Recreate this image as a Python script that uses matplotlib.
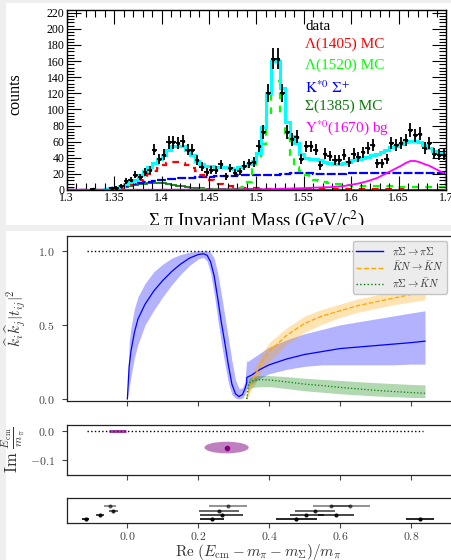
import numpy as np
import matplotlib
matplotlib.use('Agg')
import matplotlib.pyplot as plt
from matplotlib.patches import Rectangle, Ellipse
from matplotlib.lines import Line2D
from matplotlib.ticker import MultipleLocator, FuncFormatter, NullFormatter

W, H = 451, 560

# ── top panel: Sigma-pi invariant mass histogram (80 bins of 5 MeV) ──
bin_edges = np.round(np.linspace(1.30, 1.70, 81), 4)
bin_centers = 0.5 * (bin_edges[:-1] + bin_edges[1:])

data_counts = [0, 0, 0, 0, 0, 1, 0, 0, 0, 2,
               3, 5, 11, 13, 19, 16, 22, 25, 50, 39,
               44, 59, 59, 58, 61, 50, 50, 37, 29, 22,
               25, 25, 32, 17, 27, 21, 23, 30, 33, 35,
               55, 72, 120, 163, 163, 120, 72, 63, 66, 39,
               54, 54, 50, 31, 45, 42, 37, 37, 44, 35,
               45, 41, 47, 52, 56, 33, 33, 39, 58, 56,
               58, 62, 74, 68, 70, 52, 58, 45, 44, 44]

fit_total = [0, 0, 0, 0, 0, 0, 0, 0, 1, 2,
             3, 5, 7, 10, 13, 18, 23, 28, 34, 38,
             44, 50, 55, 55, 54, 50, 44, 36, 32, 30,
             30, 29, 29, 28, 27, 26, 28, 30, 32, 36,
             46, 78, 120, 160, 160, 126, 85, 67, 58, 45,
             40, 39, 38, 37, 35, 33, 32, 32, 33, 35,
             37, 39, 40, 41, 43, 45, 47, 50, 53, 55,
             57, 59, 61, 61, 59, 56, 52, 48, 46, 45]

mc_l1405 = [0, 0, 0, 0, 0, 0, 0, 0, 0.5, 1,
            2, 3, 5, 7, 10, 13, 16, 20, 24, 27,
            31, 34, 35, 35, 34, 31, 27, 23, 18, 14,
            12, 10, 8, 6, 5, 4, 3.5, 3, 2.5, 2,
            2, 2, 1.8, 1.8, 1.7, 1.6, 1.5, 1.5, 1.4, 1.4,
            1.3, 1.3, 1.2, 1.2, 1.1, 1.1, 1, 1, 1, 1,
            1, 0.9, 0.9, 0.9, 0.8, 0.8, 0.8, 0.7, 0.7, 0.7,
            0.7, 0.6, 0.6, 0.6, 0.6, 0.5, 0.5, 0.5, 0.5, 0.5]

mc_l1520 = [0, 0, 0, 0, 0, 0, 0, 0, 0.2, 0.2,
            0.3, 0.3, 0.3, 0.3, 0.3, 0.4, 0.4, 0.4, 0.4, 0.5,
            0.5, 0.5, 0.5, 0.6, 0.6, 0.6, 0.7, 0.7, 0.8, 0.8,
            0.9, 1, 1, 1.2, 1.4, 1.6, 2, 4, 10, 28,
            40, 57, 90, 135, 135, 95, 65, 43, 29, 23,
            18, 15, 13, 11, 10, 9, 8, 7, 6.5, 6,
            5.5, 5.3, 5.1, 5, 4.8, 4.7, 4.6, 4.5, 4.4, 4.3,
            4.2, 4.1, 4, 3.9, 3.8, 3.8, 3.7, 3.6, 3.5, 3.5]

mc_kstar = [0, 0, 0, 0, 0, 0, 0, 0, 1, 2,
            3, 4, 5, 7, 8, 9, 10, 10.5, 11, 12,
            13, 13.5, 14, 14.5, 15, 15, 15.5, 16, 16, 16.5,
            16.5, 17, 17, 17, 17.5, 17.5, 18, 18, 18, 18.5,
            18.5, 18.5, 19, 19, 19, 19.5, 20, 20.5, 21, 21,
            20.5, 20.5, 20, 20, 20, 20, 19.5, 19.5, 20, 20.5,
            21, 21, 21.5, 21.5, 21, 21, 21, 21, 21, 21,
            21.5, 21.5, 21, 21, 21, 21, 21, 20.5, 20.5, 20.5]

mc_s1385 = [0, 0, 0, 0, 0, 0, 0.3, 0.5, 1, 1.5,
            2, 3, 4, 5, 6, 7, 8, 8.5, 9, 9,
            8.5, 7.5, 6.5, 5.5, 4.5, 3.5, 3, 2.5, 2, 1.5,
            1.2, 1, 0.9, 0.9, 0.8, 0.8, 0.8, 0.7, 0.7, 0.7,
            0.7, 0.6, 0.6, 0.6, 0.6, 0.6, 0.5, 0.5, 0.5, 0.5,
            0.5, 0.5, 0.5, 0.5, 0.5, 0.5, 0.5, 0.5, 0.5, 0.5,
            0.5, 0.5, 0.5, 0.5, 0.5, 0.5, 0.5, 0.5, 0.5, 0.5,
            0.5, 0.5, 0.5, 0.5, 0.5, 0.5, 0.5, 0.5, 0.5, 0.5]

bg_y1670 = [0.3, 0.3, 0.3, 0.3, 0.3, 0.3, 0.3, 0.3, 0.3, 0.3,
            0.3, 0.3, 0.3, 0.3, 0.3, 0.3, 0.3, 0.3, 0.3, 0.3,
            0.4, 0.4, 0.4, 0.4, 0.4, 0.5, 0.5, 0.5, 0.5, 0.6,
            0.6, 0.6, 0.6, 0.7, 0.7, 0.7, 0.7, 0.8, 0.8, 0.8,
            0.8, 1, 1, 1.2, 1.3, 1.5, 1.7, 1.9, 2, 2.2,
            2.5, 2.7, 3, 3.2, 3.5, 3.5, 4, 4.5, 5, 6,
            7, 8, 9.5, 11, 13, 15, 18, 21, 24, 27,
            30, 33.5, 36, 36, 34.5, 32, 30, 27, 24, 21]

legend_top = [('data', 'black'), ('Λ(1405) MC', '#ff0000'), ('Λ(1520) MC', '#00ff00'),
              (r'$\mathrm{K}^{*0}\ \Sigma^{+}$', '#0000ff'), ('Σ(1385) MC', '#0b7a0b'),
              (r'$\mathrm{Y}^{*0}$(1670) bg', '#ff00ff')]
legend_top_y = [27, 44, 65, 88, 106, 128]

# ── bottom panel: amplitudes, poles, pole summary ──
pipi_x = [0, .005, .01, .02, .03, .05, .075, .10, .125, .15, .175, .20, .215, .225,
          .235, .245, .255, .265, .275, .285, .295, .305, .315, .325, .332, .337,
          .337, .35, .375, .40, .45, .50, .55, .60, .65, .70, .75, .80, .84]
pipi_mid = [0, .22, .32, .45, .54, .64, .73, .80, .86, .91, .95, .975, .98, .97,
            .925, .83, .68, .52, .38, .23, .10, .035, .016, .03, .07, .11,
            .145, .16, .20, .23, .27, .30, .32, .34, .35, .36, .37, .38, .39]
pipi_hi = [0, .38, .48, .61, .69, .78, .86, .91, .95, .975, .99, 1.0, 1.0, 1.0,
           .99, .95, .85, .71, .56, .41, .26, .13, .07, .075, .12, .28,
           .25, .27, .31, .35, .40, .44, .47, .50, .52, .54, .56, .58, .595]
pipi_lo = [0, .08, .15, .28, .37, .50, .60, .69, .77, .84, .90, .945, .955, .93,
           .85, .71, .54, .38, .24, .11, .03, .005, 0, .005, .03, .06,
           .07, .10, .14, .17, .20, .22, .23, .23, .23, .23, .23, .235, .235]

kn_x = [.337, .345, .36, .38, .40, .45, .50, .55, .60, .65, .70, .75, .80, .84]
kn_mid = [0, .08, .16, .25, .32, .43, .51, .56, .595, .63, .655, .68, .705, .725]
kn_hi = [0, .13, .22, .31, .38, .48, .56, .605, .64, .675, .70, .73, .755, .77]
kn_lo = [0, .04, .10, .19, .25, .37, .45, .505, .55, .585, .61, .635, .655, .67]

pikn_x = [.337, .342, .35, .36, .38, .40, .45, .50, .55, .60, .65, .70, .75, .80, .84]
pikn_mid = [0, .10, .12, .127, .13, .128, .115, .10, .09, .078, .068, .058, .05, .043, .038]
pikn_hi = [0, .14, .15, .155, .158, .158, .15, .14, .132, .125, .117, .11, .104, .098, .095]
pikn_lo = [0, .06, .075, .08, .083, .083, .07, .055, .045, .035, .027, .02, .015, .01, .008]

pole_re = [0.28]
pole_im = [-0.057]
pole_re_err = 0.125
pole_im_err = 0.04
virtual_re = [-0.052, -0.005]

# pole summary rows (1 = bottom row)
summ_x = [-0.1175, 0.239, 0.476, 0.826,
          -0.078, 0.266, 0.505, 0.589,
          -0.0395, 0.258, 0.530,
          -0.049, 0.283, 0.576, 0.629]
summ_lo = [0.0094, 0.033, 0.056, 0.039,
           0.011, 0.060, 0.047, 0.050,
           0.012, 0.056, 0.056,
           0.016, 0.053, 0.053, 0.053]
summ_hi = [0.0094, 0.033, 0.059, 0.040,
           0.011, 0.060, 0.050, 0.051,
           0.012, 0.058, 0.057,
           0.016, 0.055, 0.053, 0.056]
summ_row = [1, 1, 1, 1, 2, 2, 2, 2, 3, 3, 3, 4, 4, 4, 4]
row_alpha = {1: 1.0, 2: 0.85, 3: 0.7, 4: 0.5}

XMIN, XMAX = -0.1712, 0.95


def fbox(x0, y0, x1, y1):
    return [x0 / W, 1 - y1 / H, (x1 - x0) / W, (y1 - y0) / H]


fig = plt.figure(figsize=(W / 100, H / 100), dpi=100)
fig.patch.set_facecolor('#efefef')
fig.patches.append(Rectangle((6 / W, 1 - 225 / H), 1, 222 / H, transform=fig.transFigure,
                             facecolor='white', edgecolor='none', zorder=-2))
fig.patches.append(Rectangle((6 / W, 0), 1, 1 - 231 / H, transform=fig.transFigure,
                             facecolor='white', edgecolor='none', zorder=-2))
fig.patches.append(Rectangle((0, 1 - 231 / H), 1, 6 / H, transform=fig.transFigure,
                             facecolor='#efefef', edgecolor='none', zorder=20))

# ── top axes (ROOT style) ────────────────────────────────
serif = 'Liberation Serif'
ax = fig.add_axes(fbox(66.7, 10, 446, 190))
ax.set_xlim(1.30, 1.70)
ax.set_ylim(0, 223.4)

ax.stairs(mc_s1385, bin_edges, color='#0b7a0b', lw=1.3)
ax.plot(bin_centers, bg_y1670, color='#ff00ff', lw=1.3)
ax.stairs(mc_kstar, bin_edges, color='#0000ff', lw=1.6, ls=(0, (4, 1)))
ax.stairs(mc_l1405, bin_edges, color='#ff0000', lw=1.6, ls=(0, (3, 3)))
ax.stairs(mc_l1520, bin_edges, color='#00ff00', lw=1.6, ls=(0, (3, 3)))
ax.stairs(fit_total, bin_edges, color='#00ffff', lw=2.2)

counts = np.array(data_counts, dtype=float)
has = counts > 0
ax.errorbar(bin_centers[has], counts[has], yerr=np.sqrt(counts[has]), xerr=0.0025,
            fmt='o', ms=1.5, color='black', elinewidth=1.3, capsize=0)

ax.xaxis.set_major_locator(MultipleLocator(0.05))
ax.xaxis.set_minor_locator(MultipleLocator(0.01))
ax.yaxis.set_major_locator(MultipleLocator(20))
ax.yaxis.set_minor_locator(MultipleLocator(4))
ax.xaxis.set_major_formatter(FuncFormatter(lambda v, p: f'{v:g}'))
ax.tick_params(which='both', direction='in', top=True, right=True, width=0.8,
               labelsize=8.5, pad=1.5)
ax.tick_params(which='major', length=10)
ax.tick_params(which='minor', length=5)
for lab in ax.get_xticklabels() + ax.get_yticklabels():
    lab.set_fontfamily(serif)
for sp in ax.spines.values():
    sp.set_linewidth(1.0)

for (txt, col), yy in zip(legend_top, legend_top_y):
    fig.text(305 / W, 1 - yy / H, txt, color=col, fontsize=11, family=serif,
             math_fontfamily='stix', va='center', ha='left')

fig.text(15 / W, 1 - 94 / H, 'counts', rotation=90, fontsize=11.5, family=serif,
         ha='center', va='center')
fig.text(256 / W, 1 - 225.5 / H, 'Σ π Invariant Mass (GeV/c$^{2}$)', fontsize=13.5,
         family=serif, math_fontfamily='stix', ha='center', va='baseline', zorder=5)

# ── bottom axes ──────────────────────────────────────────
plt.rcParams['mathtext.fontset'] = 'cm'
tick_col = '#444444'
math_fmt = FuncFormatter(lambda v, p: f'${v:.1f}$')


def style(a):
    a.set_xlim(XMIN, XMAX)
    a.set_xticks([0, 0.2, 0.4, 0.6, 0.8])
    a.tick_params(direction='out', length=3.5, width=0.8, color=tick_col,
                  labelcolor=tick_col, labelsize=8.5, pad=1.5)
    a.tick_params(axis='y', pad=5)
    for sp in a.spines.values():
        sp.set_linewidth(0.9)
        sp.set_color('#222222')


ax_a = fig.add_axes(fbox(66.7, 236, 464, 400.7))
style(ax_a)
ax_a.set_ylim(-0.012, 1.10)
ax_a.set_yticks([0, 0.5, 1.0])
ax_a.yaxis.set_major_formatter(math_fmt)
ax_a.xaxis.set_major_formatter(NullFormatter())
ax_a.hlines(1.0, -0.113, 0.834, colors='black', linestyles=':', lw=1.0)
ax_a.fill_between(pipi_x, pipi_lo, pipi_hi, color='#0000ff', alpha=0.3, lw=0)
ax_a.fill_between(kn_x, kn_lo, kn_hi, color='#ffa500', alpha=0.3, lw=0)
ax_a.fill_between(pikn_x, pikn_lo, pikn_hi, color='green', alpha=0.3, lw=0)
ax_a.plot(pipi_x, pipi_mid, color='#0000ff', lw=0.9)
ax_a.plot(kn_x, kn_mid, color='#ffa500', lw=0.9, ls='--')
ax_a.plot(pikn_x, pikn_mid, color='green', lw=0.9, ls=':')
ax_a.set_ylabel(r'$\widehat{k}_i\widehat{k}_j|t_{ij}|^2$', fontsize=11, color='#333333')
ax_a.yaxis.set_label_coords((28 - 66.7) / 397.3, 0.5)

handles = [Line2D([], [], color='#0000ff', lw=1.0),
           Line2D([], [], color='#ffa500', lw=1.0, ls='--'),
           Line2D([], [], color='green', lw=1.0, ls=':')]
labels = [r'$\pi\Sigma\rightarrow\pi\Sigma$', r'$\bar{K}N\rightarrow\bar{K}N$',
          r'$\pi\Sigma\rightarrow\bar{K}N$']
leg = ax_a.legend(handles, labels, loc='upper right', fontsize=7.5,
                  bbox_to_anchor=(446.7 / W, 1 - 241.3 / H), bbox_transform=fig.transFigure,
                  fancybox=True, framealpha=1, facecolor='#ececec', edgecolor='#c4c4c4',
                  handlelength=2.6, borderpad=0.35, labelspacing=0.3, borderaxespad=0)
for t in leg.get_texts():
    t.set_color('#333333')

ax_b = fig.add_axes(fbox(66.7, 425, 464, 475))
style(ax_b)
ax_b.set_ylim(-0.1517, 0.0207)
ax_b.set_yticks([-0.1, 0.0])
ax_b.yaxis.set_major_formatter(math_fmt)
ax_b.xaxis.set_major_formatter(NullFormatter())
ax_b.hlines(0.0, -0.113, 0.834, colors='black', linestyles=':', lw=1.0)
ax_b.add_patch(Ellipse((pole_re[0], pole_im[0]), pole_re_err, pole_im_err,
                       facecolor='purple', alpha=0.5, lw=0))
ax_b.plot(pole_re, pole_im, 'o', color='purple', ms=3)
ax_b.plot(virtual_re, [0, 0], color='purple', lw=2.2, alpha=0.75, solid_capstyle='butt')
ax_b.set_ylabel(r'$\mathrm{Im}\ \frac{E_{\rm cm}}{m_\pi}$', fontsize=12, color='#333333')
ax_b.yaxis.set_label_coords((27 - 66.7) / 397.3, 0.5)

ax_c = fig.add_axes(fbox(66.7, 498.3, 464, 523.3))
style(ax_c)
ax_c.set_ylim(-0.1, 6)
ax_c.set_yticks([])
ax_c.xaxis.set_major_formatter(math_fmt)
for xv, lo, hi, r in zip(summ_x, summ_lo, summ_hi, summ_row):
    ax_c.errorbar([xv], [r], xerr=[[lo], [hi]], fmt='o', ms=2, color='black',
                  alpha=row_alpha[r], elinewidth=1.2, capsize=0)

fig.text(258.5 / W, 1 - 551.5 / H, r'$\mathrm{Re}\ (E_{\rm cm}-m_\pi-m_\Sigma)/m_\pi$',
         fontsize=11, color='#333333', ha='center', va='center')

fig.savefig('out.png', dpi=100, facecolor=fig.get_facecolor())
